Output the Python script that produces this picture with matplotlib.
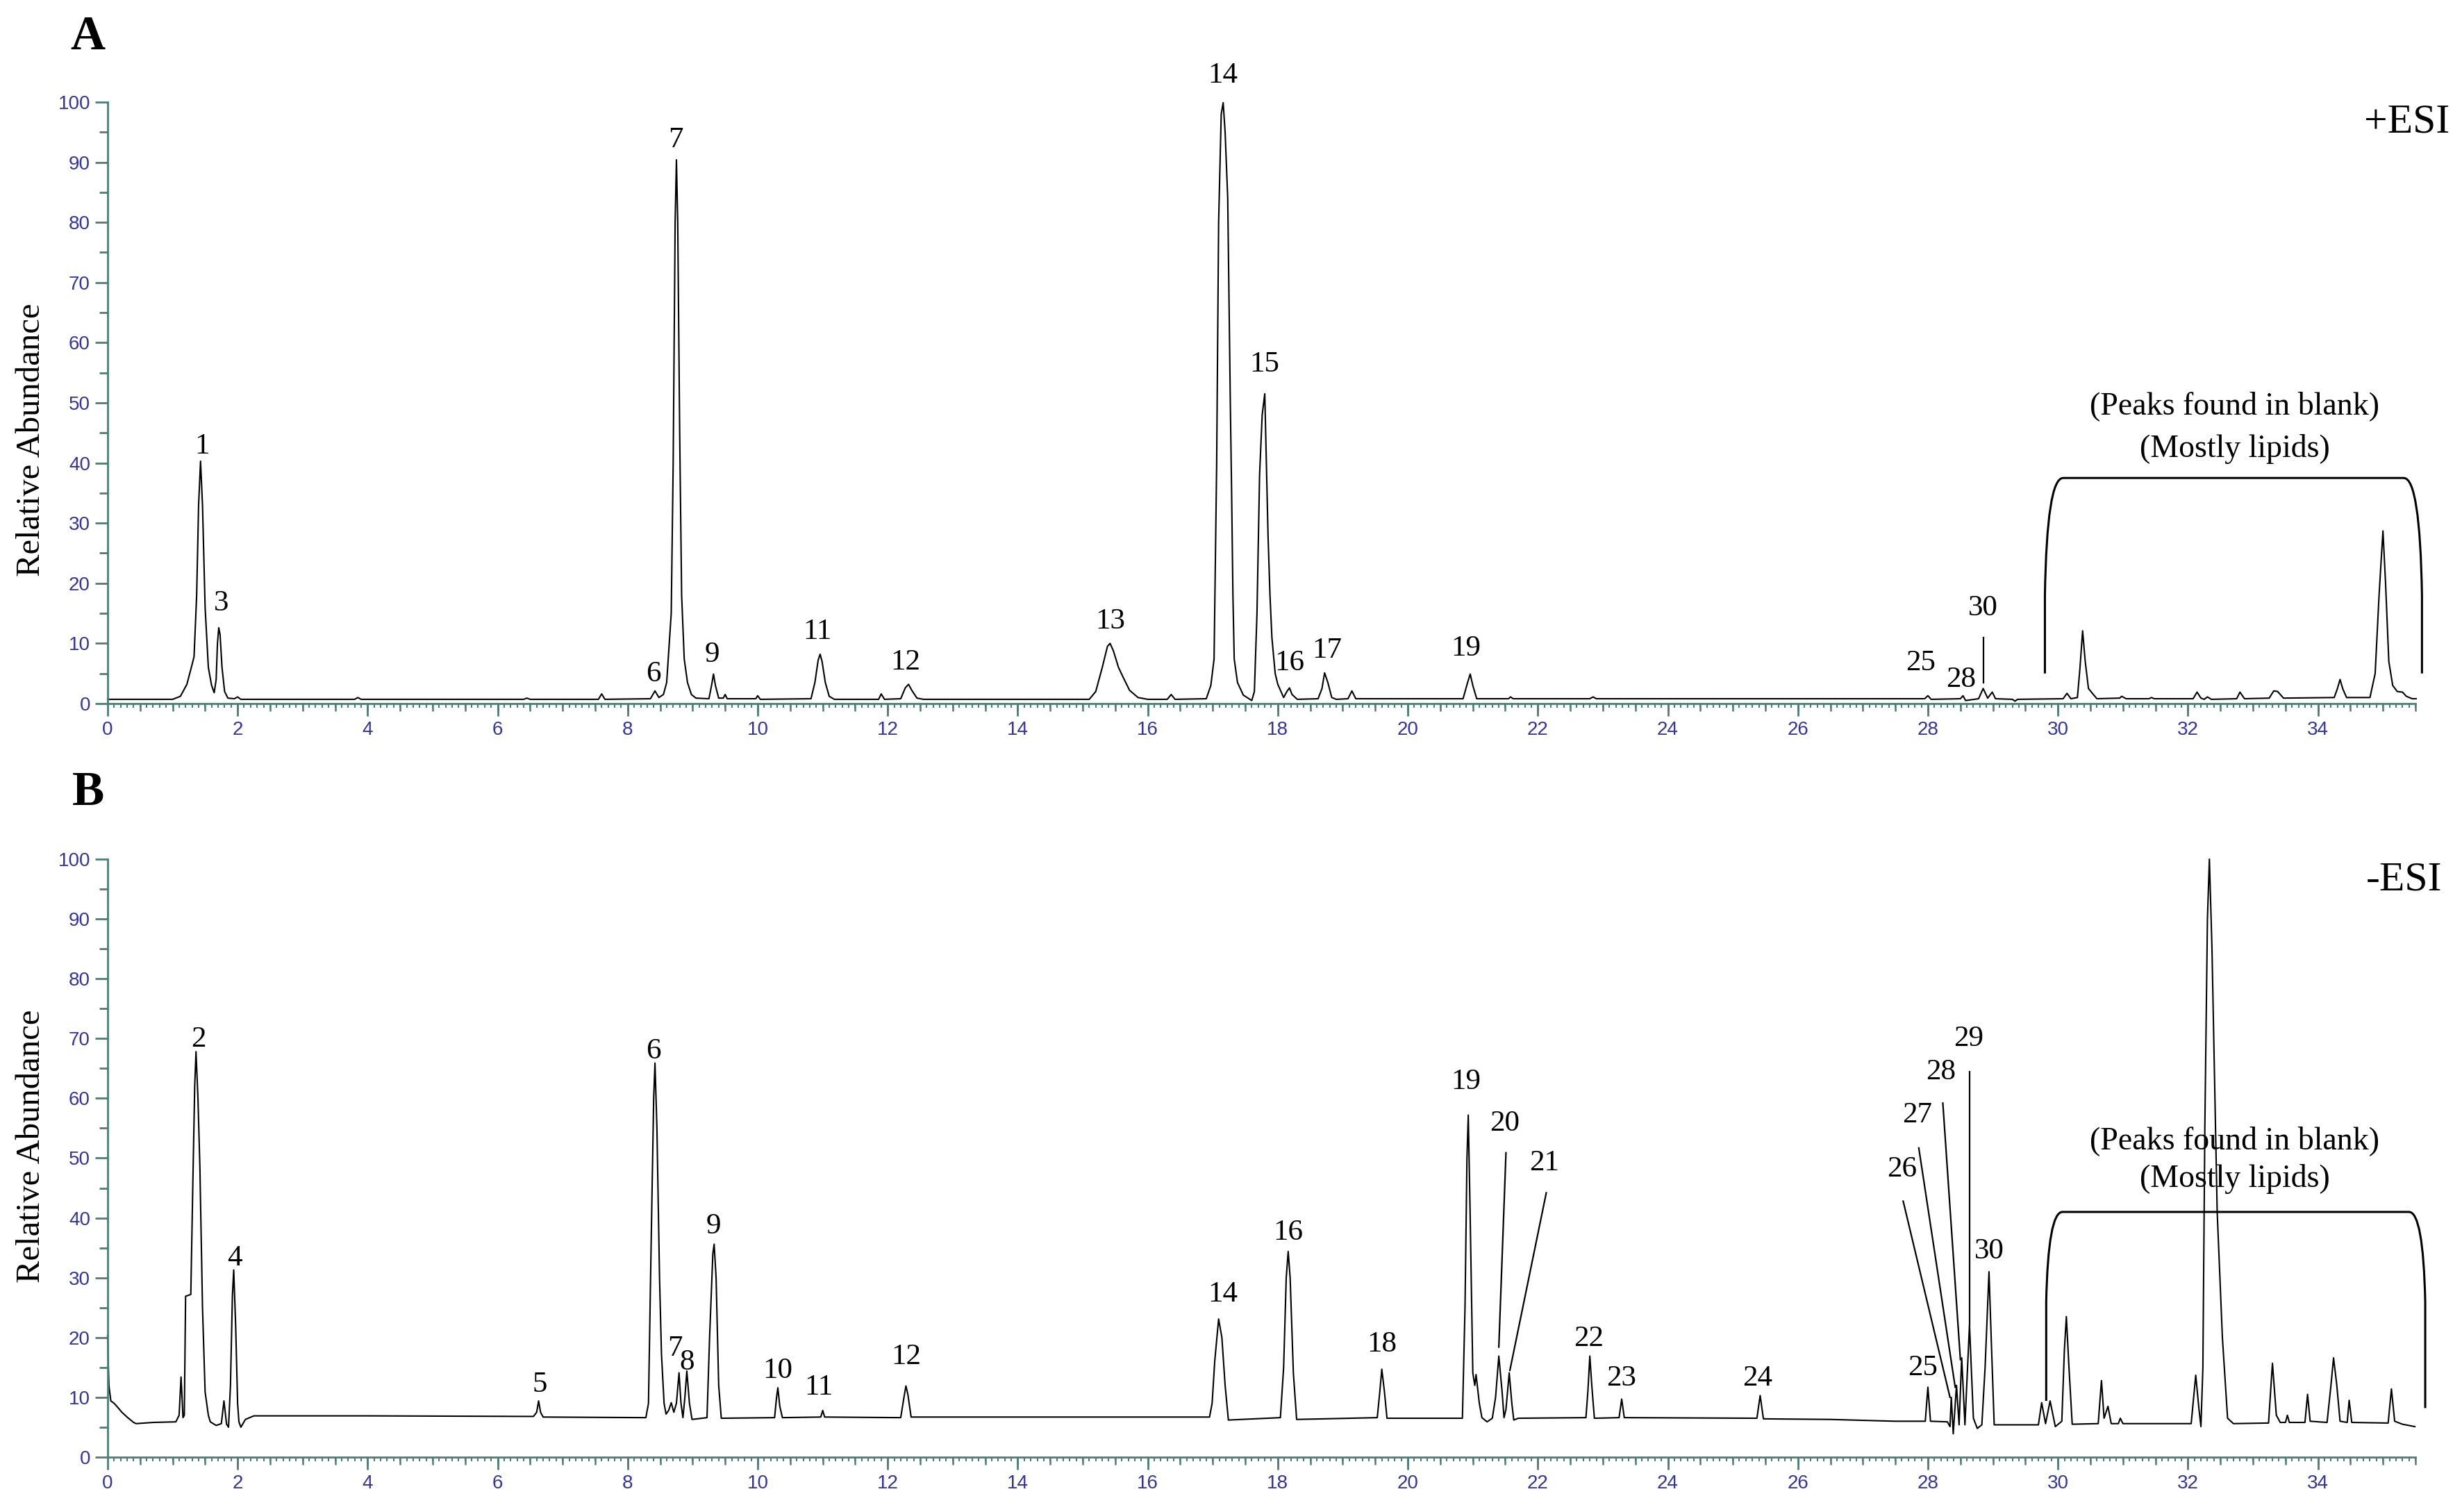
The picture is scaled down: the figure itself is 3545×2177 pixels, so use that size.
import numpy as np
import matplotlib
matplotlib.use("Agg")
from matplotlib import pyplot as plt
from matplotlib.path import Path
from matplotlib.patches import PathPatch
from matplotlib.ticker import MultipleLocator

# ---- panel A (+ESI) trace: retention time (min) / relative abundance ----
rt_a = [0.0, 1.0, 1.12, 1.22, 1.30, 1.33, 1.37, 1.40, 1.43, 1.46,
        1.50, 1.55, 1.60, 1.64, 1.67, 1.69, 1.71, 1.73, 1.76, 1.80,
        1.85, 1.95, 2.00, 2.05, 3.80, 3.85, 3.90, 6.40, 6.45, 6.50,
        7.55, 7.60, 7.65, 8.35, 8.42, 8.48, 8.55, 8.60, 8.64, 8.67,
        8.70, 8.73, 8.75, 8.77, 8.80, 8.83, 8.87, 8.92, 8.98, 9.05,
        9.25, 9.29, 9.32, 9.35, 9.40, 9.47, 9.50, 9.53, 9.97, 10.00,
        10.04, 10.82, 10.88, 10.93, 10.96, 10.99, 11.04, 11.10, 11.18, 11.86,
        11.90, 11.95, 12.20, 12.27, 12.32, 12.37, 12.45, 12.55, 15.10, 15.20,
        15.30, 15.38, 15.42, 15.47, 15.55, 15.62, 15.72, 15.85, 16.00, 16.30,
        16.36, 16.42, 16.90, 16.97, 17.02, 17.06, 17.09, 17.13, 17.16, 17.19,
        17.23, 17.27, 17.29, 17.31, 17.33, 17.38, 17.47, 17.60, 17.64, 17.68,
        17.72, 17.76, 17.80, 17.82, 17.85, 17.88, 17.91, 17.96, 18.00, 18.09,
        18.14, 18.18, 18.22, 18.30, 18.62, 18.68, 18.72, 18.77, 18.83, 18.90,
        19.08, 19.14, 19.20, 20.85, 20.92, 20.96, 21.00, 21.06, 21.55, 21.58,
        21.62, 22.80, 22.85, 22.90, 27.95, 28.00, 28.05, 28.50, 28.54, 28.58,
        28.78, 28.85, 28.92, 28.99, 29.04, 29.30, 29.34, 29.38, 30.08, 30.14,
        30.20, 30.30, 30.34, 30.38, 30.42, 30.47, 30.53, 30.60, 30.95, 30.98,
        31.05, 31.40, 31.44, 31.48, 32.08, 32.14, 32.20, 32.25, 32.30, 32.36,
        32.75, 32.80, 32.87, 33.25, 33.32, 33.38, 33.47, 34.25, 34.30, 34.34,
        34.38, 34.44, 34.80, 34.88, 34.94, 35.00, 35.04, 35.09, 35.15, 35.22,
        35.30, 35.36, 35.45, 35.51]
abund_a = [0.7, 0.7, 1.2, 3.2, 6.5, 7.8, 18, 33, 40.3, 33,
           16, 6, 3, 1.8, 4, 10, 12.6, 11.5, 6, 2,
           0.9, 0.8, 1.1, 0.7, 0.7, 1.0, 0.7, 0.7, 0.9, 0.7,
           0.7, 1.6, 0.7, 0.8, 2.1, 1.0, 1.5, 3.5, 10, 15,
           40, 80, 90.4, 80, 45, 18, 7.4, 3.5, 1.5, 0.9,
           0.8, 3, 4.9, 3, 0.9, 0.9, 1.5, 0.8, 0.8, 1.3,
           0.7, 0.8, 3.5, 7.2, 8.2, 7.0, 3.5, 1.2, 0.7, 0.7,
           1.6, 0.7, 0.8, 2.6, 3.2, 2.2, 0.9, 0.7, 0.7, 2,
           6, 9.5, 10.0, 8.8, 6, 4.4, 2.2, 1.0, 0.7, 0.7,
           1.5, 0.7, 0.8, 3, 7.4, 40, 80, 98, 99.9, 95,
           84, 50, 35, 18, 7.4, 3.5, 1.4, 0.5, 2, 15,
           38, 48, 51.5, 42, 28, 18, 10.9, 5, 3.2, 1.0,
           2, 2.6, 1.5, 0.7, 0.8, 2.5, 5.1, 3.5, 1.0, 0.7,
           0.8, 2.1, 0.8, 0.8, 3.5, 4.9, 3, 0.8, 0.8, 1.1,
           0.8, 0.8, 1.1, 0.8, 0.8, 1.3, 0.7, 0.8, 1.3, 0.5,
           0.8, 2.5, 0.9, 1.9, 0.8, 0.7, 0.4, 0.7, 0.8, 1.7,
           0.8, 1.0, 6, 12.1, 7, 2.5, 1.7, 0.8, 0.9, 1.2,
           0.8, 0.8, 1.0, 0.8, 0.8, 1.9, 0.9, 0.7, 1.1, 0.7,
           0.8, 1.9, 0.8, 0.9, 2.1, 2.0, 0.9, 1.0, 2.5, 4.0,
           2.5, 1.0, 1.0, 5, 18, 28.7, 20, 7, 3, 2,
           1.9, 1.2, 0.8, 0.8]

# ---- panel B (-ESI) trace ----
rt_b = [0.00, 0.02, 0.05, 0.10, 0.15, 0.22, 0.31, 0.40, 0.44, 0.70,
        1.05, 1.10, 1.13, 1.16, 1.18, 1.20, 1.28, 1.31, 1.34, 1.36,
        1.39, 1.42, 1.46, 1.50, 1.55, 1.58, 1.67, 1.75, 1.79, 1.83,
        1.86, 1.89, 1.92, 1.94, 1.97, 2.00, 2.02, 2.05, 2.12, 2.25,
        4.00, 6.55, 6.60, 6.63, 6.66, 6.70, 8.28, 8.32, 8.36, 8.40,
        8.42, 8.45, 8.49, 8.52, 8.56, 8.59, 8.63, 8.67, 8.71, 8.75,
        8.79, 8.82, 8.85, 8.88, 8.91, 8.95, 8.99, 9.22, 9.26, 9.31,
        9.33, 9.36, 9.40, 9.44, 10.26, 10.29, 10.31, 10.34, 10.38, 10.97,
        11.00, 11.03, 12.20, 12.25, 12.28, 12.31, 12.36, 16.95, 16.99, 17.03,
        17.09, 17.14, 17.19, 17.24, 18.04, 18.09, 18.13, 18.16, 18.19, 18.24,
        18.29, 19.53, 19.57, 19.60, 19.64, 19.68, 20.84, 20.88, 20.91, 20.93,
        20.96, 21.00, 21.03, 21.05, 21.10, 21.14, 21.22, 21.30, 21.35, 21.40,
        21.45, 21.48, 21.51, 21.56, 21.60, 21.63, 21.70, 22.74, 22.77, 22.80,
        22.83, 22.87, 23.25, 23.29, 23.33, 25.37, 25.42, 25.47, 26.50, 27.50,
        27.96, 28.00, 28.04, 28.30, 28.34, 28.36, 28.39, 28.44, 28.48, 28.52,
        28.57, 28.64, 28.70, 28.76, 28.83, 28.88, 28.94, 28.98, 29.02, 29.70,
        29.75, 29.81, 29.88, 29.96, 30.06, 30.10, 30.13, 30.17, 30.22, 30.62,
        30.67, 30.71, 30.77, 30.82, 30.93, 30.96, 31.00, 32.05, 32.12, 32.17,
        32.20, 32.23, 32.26, 32.30, 32.33, 32.37, 32.45, 32.53, 32.61, 32.70,
        33.24, 33.30, 33.36, 33.42, 33.50, 33.53, 33.56, 33.80, 33.84, 33.88,
        34.14, 34.20, 34.24, 34.29, 34.34, 34.45, 34.48, 34.52, 35.08, 35.13,
        35.18, 35.30, 35.49]
abund_b = [20.3, 12, 9.4, 9.0, 8.4, 7.5, 6.6, 5.8, 5.6, 5.8,
           5.9, 7, 13.4, 6.6, 7, 26.9, 27.2, 45, 62, 67.8,
           60, 48.4, 25, 10.9, 7, 5.9, 5.3, 5.6, 9.4, 5.5,
           5.0, 12, 27, 31.3, 22, 9, 5.9, 5.0, 6.3, 6.9,
           6.9, 6.8, 7.5, 9.4, 7.5, 6.7, 6.6, 9, 35, 60,
           65.9, 55, 30, 17.2, 9, 7.2, 7.8, 9.1, 7.5, 9,
           14.1, 9, 6.6, 10, 14.4, 9, 6.3, 6.6, 20, 34,
           35.6, 30, 12, 6.5, 6.6, 10, 11.6, 8.5, 6.6, 6.7,
           7.8, 6.7, 6.6, 10, 11.9, 10.5, 6.7, 6.7, 9, 16,
           23.1, 20, 12, 6.2, 6.6, 15, 30, 34.4, 30, 14,
           6.3, 6.6, 11, 14.7, 11, 6.5, 6.5, 25, 50, 57.2,
           40, 14.1, 12, 13.8, 9, 6.6, 5.9, 6.5, 10, 16.9,
           11, 6.6, 8, 14.1, 9, 6.2, 6.5, 6.6, 11, 16.9,
           12, 6.5, 6.6, 9.7, 6.6, 6.5, 10.3, 6.4, 6.3, 6.0,
           6.0, 11.7, 6.0, 5.9, 5.1, 10.0, 3.9, 12.0, 5.4, 16.6,
           5.4, 22.1, 6.5, 4.8, 5.4, 15, 31.0, 18, 5.4, 5.4,
           9.1, 5.6, 9.4, 5.1, 6, 18, 23.5, 15, 5.5, 5.6,
           12.8, 6.5, 8.5, 5.6, 5.6, 6.5, 5.6, 5.6, 13.7, 8,
           5.1, 15, 55, 90, 100, 85, 41, 20, 6.5, 5.6,
           5.7, 15.7, 7, 5.8, 5.8, 7, 5.8, 5.8, 10.5, 6,
           5.8, 12, 16.6, 12, 6, 5.8, 9.5, 5.8, 5.7, 11.4,
           6, 5.5, 5.1]

# ---- peak numbers (label centre: rt, abundance) ----
peak_ids_a = ["1", "3", "6", "7", "9", "11", "12", "13", "14", "15",
              "16", "17", "19", "25", "28", "30"]
label_rt_a = [1.45, 1.75, 8.40, 8.74, 9.30, 10.92, 12.27, 15.42, 17.16, 17.80,
              18.18, 18.76, 20.89, 27.89, 28.51, 28.85]
label_y_a = [42.7, 16.6, 4.9, 93.7, 8.1, 11.9, 6.8, 13.7, 104.4, 56.4,
             6.7, 8.8, 9.1, 6.7, 4.0, 15.8]

peak_ids_b = ["2", "4", "5", "6", "7", "8", "9", "10", "11", "12",
              "14", "16", "18", "19", "20", "21", "22", "23", "24", "25",
              "26", "27", "28", "29", "30"]
label_rt_b = [1.40, 1.95, 6.65, 8.40, 8.73, 8.91, 9.32, 10.31, 10.94, 12.28,
              17.16, 18.16, 19.60, 20.89, 21.49, 22.10, 22.78, 23.29, 25.38, 27.92,
              27.60, 27.84, 28.20, 28.63, 28.94]
label_y_b = [69.8, 33.3, 12.1, 67.8, 18.1, 15.8, 38.6, 14.4, 11.6, 16.7,
             27.2, 37.5, 18.8, 62.7, 55.8, 49.1, 19.8, 13.1, 13.1, 14.9,
             48.1, 57.2, 64.4, 69.9, 34.4]

# leader lines (from label to peak)
leader_a = [((28.85, 11.0), (28.85, 3.5))]
leader_b = [((21.51, 50.9), (21.40, 18.4)),
            ((22.13, 44.2), (21.57, 14.5)),
            ((27.62, 42.8), (28.34, 10.0)),
            ((27.86, 51.7), (28.42, 11.7)),
            ((28.23, 59.2), (28.50, 16.3)),
            ((28.64, 64.4), (28.64, 22.1))]

SERIF = ["Liberation Serif", "DejaVu Serif"]
TEAL = "#4f7d74"
NAVY = "#35359a"
plt.rcParams["font.family"] = ["Liberation Sans", "DejaVu Sans"]


def style_axis(ax):
    ax.set_xlim(0, 35.5)
    ax.set_ylim(0, 100)
    for s in ("top", "right"):
        ax.spines[s].set_visible(False)
    for s in ("left", "bottom"):
        ax.spines[s].set_color(TEAL)
        ax.spines[s].set_linewidth(2)
    ax.set_xticks(np.arange(0, 35, 2))
    ax.xaxis.set_minor_locator(MultipleLocator(0.1))
    ax.set_yticks(np.arange(0, 101, 10))
    ax.yaxis.set_minor_locator(MultipleLocator(5))
    ax.tick_params(axis="both", which="major", length=13, width=2,
                   color=TEAL, labelcolor=NAVY, labelsize=20, pad=5)
    ax.tick_params(axis="x", which="minor", length=4, width=1.5, color=TEAL)
    ax.tick_params(axis="y", which="minor", length=9, width=2, color=TEAL)
    sec = ax.secondary_xaxis("bottom")
    sec.set_xticks(np.arange(0.5, 35.6, 0.5))
    sec.tick_params(length=8, width=1.8, color=TEAL, labelbottom=False)
    sec.spines["bottom"].set_visible(False)


def draw_bracket(ax, x0, x1, y_bot_l, y_bot_r, y_top, y_bend, dx):
    verts = [(x0, y_bot_l), (x0, y_bend), (x0 + 0.03, y_top), (x0 + dx, y_top),
             (x1 - dx, y_top), (x1 - 0.03, y_top), (x1, y_bend), (x1, y_bot_r)]
    codes = [Path.MOVETO, Path.LINETO, Path.CURVE3, Path.CURVE3,
             Path.LINETO, Path.CURVE3, Path.CURVE3, Path.LINETO]
    ax.add_patch(PathPatch(Path(verts, codes), fill=False, lw=2.2,
                           edgecolor="black", clip_on=False))


def draw_panel(ax, rt, ab, ids, lrt, ly, leaders, bracket, text_y):
    style_axis(ax)
    ax.plot(rt, ab, color="black", lw=1.5, clip_on=False)
    for name, x, y in zip(ids, lrt, ly):
        ax.text(x, y, name, ha="center", va="center", fontsize=31,
                family=SERIF, clip_on=False)
    for (x1, y1), (x2, y2) in leaders:
        ax.plot([x1, x2], [y1, y2], color="black", lw=1.6, clip_on=False)
    draw_bracket(ax, *bracket)
    ax.text(32.72, text_y[0], "(Peaks found in blank)", ha="center",
            va="center", fontsize=33, family=SERIF)
    ax.text(32.72, text_y[1], "(Mostly lipids)", ha="center",
            va="center", fontsize=33, family=SERIF)


fig = plt.figure(figsize=(35.45, 21.77), dpi=100)
ax_a = fig.add_axes([0.0437, 0.5347, 0.9374, 0.3978])
ax_b = fig.add_axes([0.0437, 0.0363, 0.9374, 0.3955])

draw_panel(ax_a, rt_a, abund_a, peak_ids_a, label_rt_a, label_y_a, leader_a,
           (29.8, 35.6, 5.0, 5.0, 37.5, 18, 0.28), (49.5, 42.3))
draw_panel(ax_b, rt_b, abund_b, peak_ids_b, label_rt_b, label_y_b, leader_b,
           (29.82, 35.65, 9.4, 8.2, 41.0, 26, 0.25), (52.9, 46.5))

fig.text(0.0127, 0.709, "Relative Abundance", rotation=90, ha="center",
         va="center", fontsize=35, family=SERIF)
fig.text(0.0127, 0.242, "Relative Abundance", rotation=90, ha="center",
         va="center", fontsize=35, family=SERIF)
fig.text(0.0358, 0.975, "A", ha="center", va="center", fontsize=50,
         weight="bold", family=SERIF)
fig.text(0.0358, 0.4754, "B", ha="center", va="center", fontsize=50,
         weight="bold", family=SERIF)
fig.text(0.995, 0.919, "+ESI", ha="right", va="center", fontsize=43,
         family=SERIF)
fig.text(0.992, 0.418, "-ESI", ha="right", va="center", fontsize=43,
         family=SERIF)

fig.savefig("out.png", dpi=100)
